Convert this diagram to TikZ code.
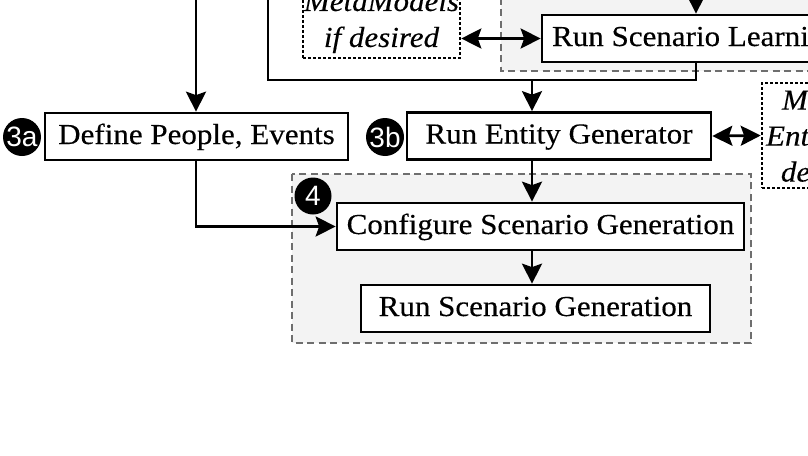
\documentclass[tikz,border=0pt]{standalone}
\usepackage{fontspec}
\setmainfont{Liberation Serif}[FakeStretch=1.07,FakeBold=0.3]
\newfontfamily\badgefont{Liberation Sans}
\usetikzlibrary{arrows.meta,calc}
\definecolor{regionfill}{HTML}{F3F3F3}
\definecolor{regionline}{HTML}{6E6E6E}
\begin{document}
\begin{tikzpicture}[x=1pt,y=-1pt,
  box/.style={draw, line width=2.7pt, fill=white, inner sep=0pt, minimum height=47pt,
    text height=20pt, text depth=5pt, font=\fontsize{29}{36}\selectfont},
  dotbox/.style={draw, line width=2.6pt, dash pattern=on 2.6pt off 2.4pt, fill=white,
    align=center, inner sep=0pt, font=\fontsize{29}{36}\selectfont\itshape},
  region/.style={draw=regionline, fill=regionfill, line width=2pt, dash pattern=on 7pt off 4.5pt},
  badge/.style={circle, fill=black, text=white, minimum size=38pt, inner sep=0pt,
    font=\badgefont\fontsize{28}{28}\selectfont},
  conn/.style={line width=2.7pt},
  arr/.style={conn, -{Stealth[length=20pt,width=20pt,inset=3.5pt]}},
  darr/.style={conn, {Stealth[length=20pt,width=20pt,inset=3.5pt]}-{Stealth[length=20pt,width=20pt,inset=3.5pt]}}
]
\useasboundingbox (0,0) rectangle (808,455);
\clip (0,0) rectangle (808,455);
% shaded groups
\draw[region] (501,-60) rectangle (900,71);
\draw[region] (292,174) rectangle (751,343);
% boxes
\node[box, minimum width=303pt] (define) at (196.5,136.5) {Define People, Events};
\node[box, minimum width=304pt] (entity) at (559,136) {Run Entity Generator};
\node[box, minimum width=308pt] (learn) at (696,38.5) {Run Scenario Learning};
\node[box, minimum width=407pt] (config) at (540.5,226.5) {Configure Scenario Generation};
\node[box, minimum width=349pt] (rungen) at (535.5,308.5) {Run Scenario Generation};
\node[dotbox, minimum width=157pt, minimum height=72pt] (meta) at (381.5,22) {MetaModels\\if desired};
\node[dotbox, minimum width=128pt, minimum height=105pt] (ment) at (826,135.5) {Modify\\Entities if\\desired};
% badges
\node[badge] (b3a) at (22,137) {3a};
\node[badge] (b3b) at (385,137) {3b};
\node[badge, minimum size=37pt] (b4) at (313,196) {4};
% connectors
\coordinate (topA) at (196,0);
\coordinate (topB) at (268,0);
\coordinate (topC) at (696,0);
\coordinate (joinR) at (696,80);
\coordinate (col) at (532,80);
\draw[arr] (topA) -- (topA |- define.north);
\draw[arr] (define.south -| topA) |- (config.west);
\draw[conn] (topB) |- (joinR) -- (learn.south);
\draw[arr] (col) -- (col |- entity.north);
\draw[arr] (entity.south -| col) -- (col |- config.north);
\draw[arr] (config.south -| col) -- (col |- rungen.north);
\draw[arr] (topC) -- (learn.north);
\draw[darr] (meta.east |- learn.west) -- (learn.west);
\draw[darr] (entity.east) -- (ment.west);
\end{tikzpicture}
\end{document}
